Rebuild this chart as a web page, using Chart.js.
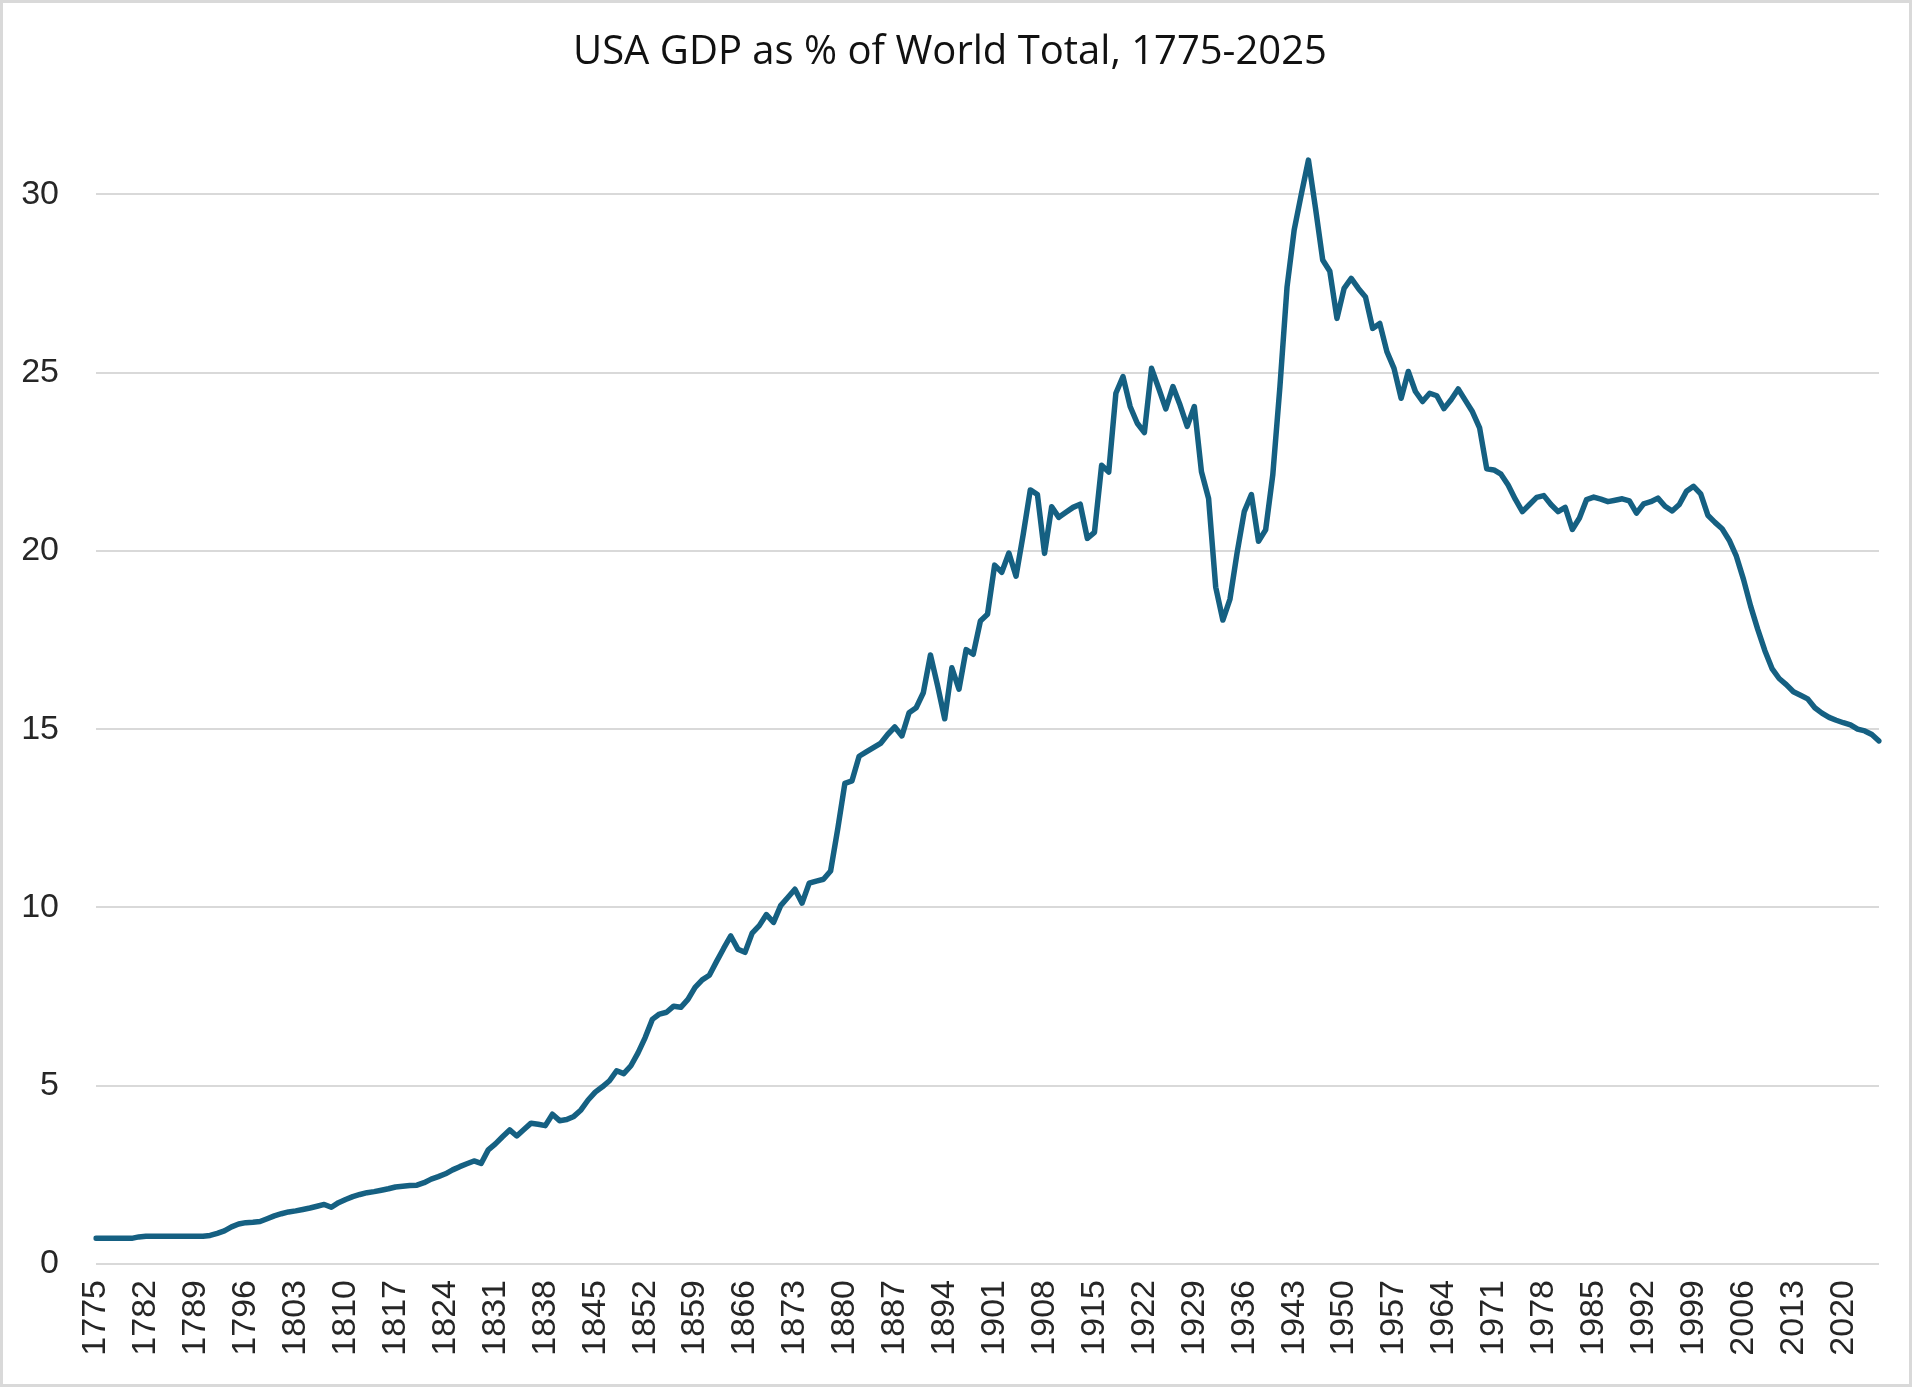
<!DOCTYPE html>
<html>
<head>
<meta charset="utf-8">
<title>USA GDP as % of World Total</title>
<script src="https://cdn.jsdelivr.net/npm/chart.js@4"></script>
<style>
  html, body { margin: 0; padding: 0; background: #fff; }
  #wrap { position: relative; width: 1920px; height: 1392px; }
  #frame { position: absolute; left: 0; top: 0; width: 1912px; height: 1387px;
           border: 3px solid #d9d9d9; box-sizing: border-box; pointer-events: none; }
</style>
</head>
<body>
<div id="wrap">
  <canvas id="gdpChart"></canvas>
  <div id="frame"></div>
</div>
<script>
// USA share of world GDP (%), one value per year, 1775-2025
const firstYear = 1775;
const lastYear = 2025;

const sharePct = [
  0.72, 0.72, 0.72, 0.72, 0.72,                                          // 1775-1779
  0.72, 0.76, 0.78, 0.78, 0.78, 0.78, 0.78, 0.78, 0.78, 0.78,            // 1780s
  0.78, 0.80, 0.86, 0.93, 1.04, 1.12, 1.16, 1.17, 1.19, 1.27,            // 1790s
  1.35, 1.41, 1.46, 1.49, 1.53, 1.57, 1.62, 1.67, 1.59, 1.72,            // 1800s
  1.81, 1.89, 1.95, 2.00, 2.03, 2.07, 2.11, 2.16, 2.18, 2.20,            // 1810s
  2.21, 2.28, 2.38, 2.45, 2.53, 2.64, 2.73, 2.81, 2.89, 2.82,            // 1820s
  3.20, 3.37, 3.57, 3.76, 3.59, 3.77, 3.95, 3.92, 3.88, 4.20,            // 1830s
  4.02, 4.05, 4.14, 4.32, 4.60, 4.82, 4.97, 5.14, 5.42, 5.34,            // 1840s
  5.56, 5.92, 6.35, 6.86, 7.01, 7.06, 7.23, 7.20, 7.42, 7.76,            // 1850s
  7.97, 8.10, 8.48, 8.85, 9.20, 8.83, 8.74, 9.28, 9.49, 9.80,            // 1860s
  9.58, 10.05, 10.28, 10.51, 10.12, 10.68, 10.74, 10.79, 11.02, 12.20,   // 1870s
  13.48, 13.55, 14.24, 14.36, 14.48, 14.60, 14.85, 15.06, 14.81, 15.46,  // 1880s
  15.60, 16.02, 17.08, 16.22, 15.29, 16.72, 16.12, 17.23, 17.10, 18.03,  // 1890s
  18.22, 19.60, 19.40, 19.94, 19.29, 20.45, 21.71, 21.58, 19.93, 21.24,  // 1900s
  20.94, 21.08, 21.22, 21.31, 20.35, 20.52, 22.40, 22.21, 24.42, 24.89,  // 1910s
  24.05, 23.58, 23.32, 25.12, 24.56, 23.98, 24.61, 24.09, 23.49, 24.05,  // 1920s
  22.22, 21.47, 18.98, 18.06, 18.65, 19.95, 21.10, 21.58, 20.27, 20.59,  // 1930s
  22.13, 24.60, 27.40, 29.00, 30.00, 30.96, 29.60, 28.16, 27.84, 26.52,  // 1940s
  27.36, 27.64, 27.36, 27.12, 26.24, 26.38, 25.59, 25.12, 24.28, 25.03,  // 1950s
  24.47, 24.19, 24.42, 24.35, 23.99, 24.24, 24.54, 24.22, 23.90, 23.45,  // 1960s
  22.30, 22.27, 22.15, 21.85, 21.45, 21.10, 21.30, 21.50, 21.55, 21.30,  // 1970s
  21.10, 21.22, 20.60, 20.92, 21.44, 21.51, 21.45, 21.38, 21.42, 21.46,  // 1980s
  21.40, 21.06, 21.32, 21.38, 21.48, 21.25, 21.12, 21.30, 21.67, 21.81,  // 1990s
  21.60, 21.00, 20.80, 20.62, 20.30, 19.85, 19.20, 18.45, 17.80, 17.20,  // 2000s
  16.70, 16.42, 16.25, 16.05, 15.95, 15.85, 15.60, 15.45, 15.33, 15.25,  // 2010s
  15.18, 15.12, 15.00, 14.95, 14.85, 14.67                               // 2020-2025
];

// x labels shown under the axis (every 7th year)
const shownYears = [
  '1775', '1782', '1789', '1796', '1803', '1810', '1817', '1824', '1831', '1838',
  '1845', '1852', '1859', '1866', '1873', '1880', '1887', '1894', '1901', '1908',
  '1915', '1922', '1929', '1936', '1943', '1950', '1957', '1964', '1971', '1978',
  '1985', '1992', '1999', '2006', '2013', '2020'
];

const yTicks = [0, 5, 10, 15, 20, 25, 30];

const years = [];
for (let y = firstYear; y <= lastYear; y++) years.push(String(y));

const ctx = document.getElementById('gdpChart');

new Chart(ctx, {
  type: 'line',
  data: {
    labels: years,
    datasets: [{
      label: 'USA GDP as % of World Total',
      data: sharePct,
      borderColor: '#156082',
      borderWidth: 5.5,
      pointRadius: 0,
      tension: 0,
      fill: false,
      borderJoinStyle: 'round',
      borderCapStyle: 'round'
    }]
  },
  options: {
    responsive: true,
    maintainAspectRatio: false,
    animation: false,
    layout: { padding: { left: 21, right: 41, top: 28, bottom: 28 } },
    plugins: {
      legend: { display: false },
      tooltip: { enabled: false },
      title: {
        display: true,
        text: 'USA GDP as % of World Total, 1775-2025',
        color: '#111',
        font: { family: 'Open Sans', size: 40, weight: 'normal' },
        padding: { top: 1, bottom: 46 }
      }
    },
    scales: {
      x: {
        offset: false,
        grid: { display: false, drawTicks: false },
        border: { display: false },
        afterFit: (scale) => {
          // keep the plot edges fixed regardless of the rotated first label
          scale.paddingLeft = 0;
          scale.paddingRight = 0;
          scale.height = 100;
        },
        ticks: {
          autoSkip: false,
          minRotation: 90,
          maxRotation: 90,
          padding: 16,
          color: '#262626',
          font: { family: 'Liberation Sans', size: 34 },
          callback: function (value) {
            const lbl = this.getLabelForValue(value);
            return shownYears.includes(lbl) ? lbl : '';
          }
        }
      },
      y: {
        min: 0,
        max: 32,
        afterBuildTicks: (axis) => {
          axis.ticks = yTicks.map(v => ({ value: v }));
        },
        afterFit: (scale) => {
          scale.width = 75;
          scale.paddingTop = 0;
          scale.paddingBottom = 0;
        },
        grid: { color: '#d9d9d9', lineWidth: 2, drawTicks: false },
        border: { display: false },
        ticks: {
          padding: 37,
          color: '#262626',
          font: { family: 'Liberation Sans', size: 34 }
        }
      }
    }
  }
});
</script>
</body>
</html>
